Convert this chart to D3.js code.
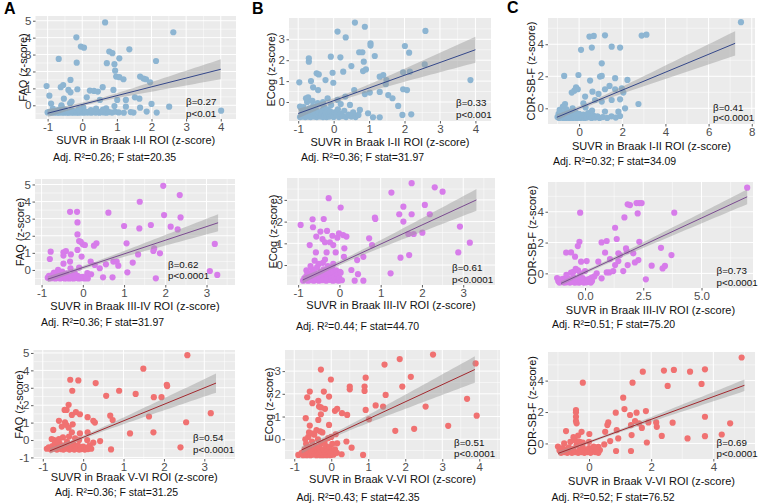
<!DOCTYPE html>
<html><head><meta charset="utf-8">
<script src="https://cdn.jsdelivr.net/npm/d3@7"></script>
<style>body{margin:0;background:#fff;} svg{display:block;font-family:"Liberation Sans",Arial,sans-serif;}</style>
</head><body><svg id="c" width="760" height="504"></svg>
<script>
// ---------------- DATA ----------------
const columnLetters = ["A", "B", "C"];
const outcomeTitles = ["FAQ (z-score)", "ECog (z-score)", "CDR-SB-F (z-score)"];
const regionTitles = ["SUVR in Braak I-II ROI (z-score)", "SUVR in Braak III-IV ROI (z-score)", "SUVR in Braak V-VI ROI (z-score)"];
// row-major: [row][col]
const betaLabels = [["β=0.27", "β=0.33", "β=0.41"], ["β=0.62", "β=0.61", "β=0.73"], ["β=0.54", "β=0.51", "β=0.69"]];
const pLabels = [["p<0.01", "p<0.001", "p<0.0001"], ["p<0.0001", "p<0.0001", "p<0.0001"], ["p<0.0001", "p<0.0001", "p<0.0001"]];
const adjR2 = [["0.26", "0.36", "0.32"], ["0.36", "0.44", "0.51"], ["0.36", "0.43", "0.52"]];
const fStat = [["20.35", "31.97", "34.09"], ["31.97", "44.70", "75.20"], ["31.25", "42.35", "76.52"]];

const xTicks = [[-1, 0, 1, 2, 3, 4], [-1, 0, 1, 2, 3, 4], [0, 2, 4, 6, 8],
                [-1, 0, 1, 2, 3], [-1, 0, 1, 2, 3], [0, 2.5, 5],
                [-1, 0, 1, 2, 3], [-1, 0, 1, 2, 3, 4], [0, 2, 4]];
const yTicks = [[0, 1, 2, 3, 4, 5], [0, 1, 2, 3], [0, 2, 4],
                [0, 1, 2, 3, 4, 5], [0, 1, 2, 3], [0, 2, 4],
                [-1, 0, 1, 2, 3, 4, 5], [0, 1, 2, 3], [0, 2, 4]];

// fitted line ends [x0, y0, x1, y1]
const fitLines = [[-1, -0.47, 4, 2.13], [-1, -0.55, 4, 2.5], [-1.03, -0.56, 7.23, 4.06],
                  [-0.85, -0.54, 3.28, 2.76], [-0.89, -0.69, 3.32, 3.0], [-1.03, -0.65, 6.96, 4.97],
                  [-0.82, -0.62, 3.29, 3.27], [-0.8, -0.47, 3.88, 3.07], [-0.99, -0.63, 5.0, 3.7]];
// confidence band: [x of narrowest, half-width there, half-width at right end]
const bands = [[0.3, 0.1, 0.59], [0.2, 0.12, 0.62], [0.3, 0.12, 0.76],
               [0.1, 0.1, 0.5], [0.0, 0.1, 0.5], [0.3, 0.1, 0.48],
               [0.0, 0.1, 0.55], [0.0, 0.1, 0.58], [0.3, 0.08, 0.37]];

const ptsA1 = [[0.66,4.9],[2.63,4.32],[-0.17,4.02],[-0.04,3.47],[0.05,3.41],[-0.68,2.74],[0.78,3.18],[0.87,3.08],[1.36,3.31],[-0.16,2.52],[0.71,2.49],[0.93,2.43],[1.07,2.78],[2.13,2.62],[0.95,2.05],[0.98,1.70],[1.07,1.66],[1.19,1.54],[1.67,1.70],[1.77,1.58],[1.84,1.54],[1.96,1.36],[-0.34,1.50],[-0.55,1.20],[-0.62,1.07],[-1.03,1.14],[-0.14,0.95],[-0.40,0.91],[-0.34,0.77],[0.22,0.87],[0.34,0.85],[0.45,0.81],[-0.95,0.57],[-0.53,0.39],[0.59,1.07],[0.13,0.47],[0.90,0.91],[1.01,0.32],[1.26,0.32],[1.52,0.47],[1.65,0.39],[0.51,0.32],[-0.31,0.22],[2.0,0.08],[2.51,-0.08],[4.01,-0.32],[0.93,-0.04],[1.26,-0.08],[1.67,-0.14],[-0.6,-0.08],[-0.35,0.12],[0.03,-0.12],[0.69,-0.18],[1.86,-0.37],[2.15,-0.43],[1.48,-0.43],
[-1.0,-0.42],[-0.95,-0.38],[-0.9,-0.44],[-0.85,-0.40],[-0.8,-0.44],[-0.76,-0.36],[-0.72,-0.42],[-0.68,-0.44],[-0.64,-0.38],[-0.6,-0.43],[-0.56,-0.40],[-0.52,-0.44],[-0.48,-0.36],[-0.44,-0.42],[-0.4,-0.44],[-0.36,-0.39],[-0.32,-0.43],[-0.28,-0.40],[-0.24,-0.44],[-0.2,-0.36],[-0.16,-0.42],[-0.12,-0.44],[-0.08,-0.39],[-0.04,-0.43],[0.0,-0.40],[0.05,-0.44],[0.1,-0.37],[0.15,-0.43],[0.2,-0.40],[0.26,-0.44],[0.32,-0.38],[0.38,-0.43],[0.44,-0.41],[0.5,-0.44],[0.56,-0.36],[0.62,-0.42],[0.7,-0.44],[0.78,-0.40],[0.86,-0.43],[0.95,-0.38],[1.05,-0.42],[1.2,-0.44],[1.4,-0.40],[-0.85,-0.2],[-0.7,-0.28],[-0.5,-0.25],[-0.3,-0.3],[-0.1,-0.22],[0.25,-0.28],[0.4,-0.2],[0.6,-0.26],[-0.6,0.0],[-0.9,0.1]];

const ptsB1 = [[0.60,3.80],[2.59,3.40],[0.88,3.60],[0.11,3.37],[0.34,3.09],[1.04,2.81],[1.04,2.70],[2.01,2.68],[2.13,2.36],[0.72,2.38],[0.81,2.38],[1.16,2.20],[-0.08,2.17],[0.19,2.14],[-0.70,2.09],[-0.70,1.93],[0.85,1.93],[0.91,1.56],[0.83,1.48],[0.50,1.72],[2.57,1.80],[1.96,1.42],[2.15,1.45],[1.30,1.21],[1.40,1.29],[1.49,1.05],[1.47,0.85],[-0.03,1.40],[0.27,1.45],[-0.48,1.37],[-0.42,1.32],[-0.64,1.0],[-0.23,1.05],[3.86,1.05],[-0.01,0.92],[-0.97,0.94],[-0.58,0.70],[0.58,0.57],[-0.44,0.57],[1.02,0.45],[1.30,0.48],[1.96,0.61],[2.07,0.57],[1.54,0.33],[1.66,0.18],[0.88,0.38],[0.33,0.26],[0.11,0.10],[-0.17,0.18],[-0.78,0.18],[-0.72,0.22],[1.82,-0.19],[-0.95,-0.22],[0.46,-0.14],[0.74,-0.38],[0.97,-0.54],[1.11,-0.73],[1.30,-0.73],[1.94,-0.62],[2.19,-0.59],
[-0.95,-0.72],[-0.9,-0.6],[-0.88,-0.7],[-0.84,-0.5],[-0.8,-0.72],[-0.78,-0.62],[-0.75,-0.4],[-0.72,-0.7],[-0.7,-0.55],[-0.68,-0.3],[-0.65,-0.72],[-0.62,-0.62],[-0.6,-0.45],[-0.58,-0.2],[-0.55,-0.7],[-0.52,-0.55],[-0.5,-0.35],[-0.48,-0.72],[-0.45,-0.62],[-0.42,-0.48],[-0.4,-0.1],[-0.38,-0.7],[-0.35,-0.58],[-0.32,-0.4],[-0.3,-0.72],[-0.27,-0.25],[-0.25,-0.62],[-0.22,-0.5],[-0.2,-0.72],[-0.17,-0.35],[-0.15,-0.6],[-0.12,-0.7],[-0.1,-0.45],[-0.07,-0.15],[-0.05,-0.65],[0.0,-0.72],[0.03,-0.5],[0.08,-0.62],[0.12,-0.35],[0.15,-0.72],[0.2,-0.55],[0.25,-0.68],[0.3,-0.42],[0.35,-0.72],[0.42,-0.6],[0.5,-0.7],[0.55,-0.5],[0.62,-0.72],[0.7,-0.62],[-0.85,-0.25],[-0.75,0.0],[-0.6,0.05],[-0.45,-0.05],[-0.3,0.0],[0.2,-0.1],[-0.9,-0.35]];

const ptsC1 = [[7.5,5.38],[0.48,4.48],[0.68,4.52],[1.20,4.56],[2.90,4.54],[3.12,4.60],[0.09,3.65],[0.59,3.79],[1.51,3.85],[1.90,3.79],[1.05,2.81],[-0.69,2.02],[-0.03,2.08],[0.51,1.73],[0.97,1.98],[1.05,2.02],[1.67,1.88],[2.24,1.77],[-0.14,1.31],[-0.06,1.19],[-0.22,1.10],[-0.34,0.98],[0.28,0.73],[0.62,1.04],[0.90,0.90],[1.20,1.19],[1.41,1.40],[1.67,1.19],[1.98,1.25],[2.05,0.98],[1.90,0.56],[2.75,0.27],[1.51,0.52],[1.05,0.42],[0.74,0.52],[-0.65,0.27],[0.20,0.31],[2.13,0.0],[1.82,-0.21],[1.90,-0.48],
[-1.0,-0.55],[-0.95,-0.35],[-0.92,-0.6],[-0.88,-0.45],[-0.84,-0.25],[-0.8,-0.58],[-0.76,-0.4],[-0.72,-0.6],[-0.68,-0.3],[-0.64,-0.5],[-0.6,-0.6],[-0.56,-0.38],[-0.52,-0.55],[-0.48,-0.2],[-0.44,-0.6],[-0.4,-0.45],[-0.36,-0.58],[-0.32,-0.3],[-0.28,-0.6],[-0.24,-0.42],[-0.2,-0.55],[-0.16,-0.25],[-0.12,-0.6],[-0.08,-0.45],[-0.04,-0.58],[0.0,-0.35],[0.05,-0.6],[0.1,-0.5],[0.15,-0.58],[0.2,-0.4],[0.25,-0.6],[0.3,-0.5],[0.36,-0.58],[0.42,-0.3],[0.5,-0.55],[0.58,-0.6],[0.66,-0.45],[0.75,-0.58],[0.85,-0.5],[0.95,-0.6],[1.1,-0.55],[1.3,-0.6],[1.5,-0.5],[1.7,-0.58],[-0.9,-0.1],[-0.6,-0.05],[-0.3,0.0],[0.3,0.05],[0.6,-0.15],[1.2,-0.2],[-0.75,0.1]];

const ptsA2 = [[1.95,4.92],[1.38,3.99],[2.35,4.38],[-0.31,3.40],[-0.14,3.40],[0.62,3.35],[1.97,3.21],[2.37,3.07],[-0.13,2.78],[1.65,2.63],[1.0,2.57],[2.13,2.53],[1.37,2.43],[2.30,2.37],[-0.13,2.08],[0.33,1.56],[0.27,1.42],[-0.09,1.69],[-0.05,1.65],[0.0,1.5],[0.05,1.46],[3.20,1.52],[1.06,1.56],[1.73,1.26],[1.71,1.11],[1.87,0.97],[-0.78,1.07],[-0.13,1.17],[-0.47,1.03],[-0.41,1.11],[-0.47,0.84],[-0.80,0.64],[-0.29,0.91],[-0.03,0.78],[-0.47,0.37],[-0.31,0.49],[0.19,0.49],[0.56,0.33],[0.74,0.49],[0.82,0.49],[0.86,0.25],[1.34,0.91],[1.21,0.43],[0.29,0.29],[0.41,0.10],[1.08,-0.14],[-0.09,0.14],[3.08,-0.06],[3.26,-0.29],[1.77,-0.49],[0.72,-0.43],[0.49,-0.43],[0.11,-0.19],
[-0.85,-0.45],[-0.82,-0.35],[-0.8,-0.5],[-0.77,-0.42],[-0.74,-0.3],[-0.72,-0.48],[-0.69,-0.4],[-0.66,-0.5],[-0.63,-0.35],[-0.6,-0.45],[-0.58,-0.25],[-0.55,-0.5],[-0.52,-0.4],[-0.5,-0.47],[-0.47,-0.32],[-0.44,-0.5],[-0.42,-0.42],[-0.39,-0.48],[-0.36,-0.36],[-0.33,-0.5],[-0.3,-0.43],[-0.27,-0.48],[-0.25,-0.3],[-0.22,-0.5],[-0.19,-0.4],[-0.16,-0.47],[-0.13,-0.35],[-0.1,-0.5],[-0.07,-0.42],[-0.04,-0.48],[0.0,-0.4],[0.04,-0.5],[0.08,-0.45],[0.12,-0.5],[-0.7,-0.15],[-0.5,-0.1],[-0.4,-0.2],[-0.2,-0.15],[-0.6,0.0],[-0.3,0.1],[0.2,-0.25]];

const ptsB2 = [[1.75,3.77],[2.31,3.58],[2.50,3.38],[1.26,3.34],[-0.26,3.08],[0.03,2.65],[1.55,2.69],[2.07,2.77],[1.45,2.34],[1.75,2.34],[2.19,2.34],[0.86,2.18],[0.87,2.12],[-0.65,2.11],[-0.38,2.12],[-0.94,1.85],[-0.64,1.74],[1.55,2.0],[-0.46,1.54],[-0.30,1.57],[0.09,1.38],[-0.01,1.46],[0.17,1.31],[-0.17,1.35],[-0.05,1.26],[-0.56,1.31],[-0.72,0.92],[-0.41,1.2],[-0.35,1.05],[-0.23,1.05],[-0.15,0.92],[0.12,0.77],[0.72,1.23],[1.67,1.43],[1.80,1.43],[2.01,1.49],[0.79,0.92],[-0.57,0.58],[-0.31,0.58],[0.58,0.38],[-0.09,0.58],[0.11,0.38],[0.43,0.23],[1.69,0.46],[1.48,0.34],[2.88,0.58],[3.16,1.03],[2.92,1.77],[0.29,-0.23],[0.45,-0.42],[0.58,-0.72],[0.37,-0.72],[1.24,-0.38],[0.01,-0.31],
[-0.88,-0.72],[-0.85,-0.6],[-0.82,-0.7],[-0.8,-0.5],[-0.78,-0.65],[-0.76,-0.72],[-0.74,-0.4],[-0.72,-0.58],[-0.7,-0.7],[-0.68,-0.48],[-0.66,-0.2],[-0.64,-0.62],[-0.62,-0.72],[-0.6,-0.35],[-0.58,-0.55],[-0.56,-0.68],[-0.54,-0.1],[-0.52,-0.45],[-0.5,-0.72],[-0.48,-0.6],[-0.46,-0.3],[-0.44,-0.5],[-0.42,-0.7],[-0.4,0.1],[-0.38,-0.2],[-0.36,-0.62],[-0.34,-0.4],[-0.32,-0.72],[-0.3,-0.55],[-0.28,-0.05],[-0.26,-0.3],[-0.24,-0.68],[-0.22,-0.48],[-0.2,-0.6],[-0.18,-0.15],[-0.16,-0.72],[-0.14,-0.38],[-0.12,-0.55],[-0.1,-0.7],[-0.08,-0.25],[-0.06,-0.6],[-0.04,-0.45],[-0.02,-0.72],[0.0,-0.6],[0.03,-0.35],[0.06,-0.7],[-0.6,0.2],[-0.5,0.05],[-0.7,-0.05],[-0.8,-0.25],[-0.35,0.25],[-0.15,0.05]];

const ptsC2 = [[6.96,5.56],[-0.21,3.94],[1.69,3.63],[1.83,4.48],[1.93,4.43],[2.21,4.56],[2.33,4.56],[2.43,4.56],[2.26,3.89],[3.83,3.94],[1.29,2.96],[1.36,2.23],[0.71,2.01],[0.93,2.10],[2.33,2.05],[-0.24,2.05],[-0.31,1.77],[-0.81,1.34],[-0.60,1.36],[0.86,1.34],[3.26,1.66],[3.71,1.19],[1.43,1.30],[1.50,1.19],[1.76,1.62],[1.79,1.45],[2.07,1.30],[-0.43,1.08],[-0.17,0.76],[0.07,0.80],[0.57,0.76],[1.07,0.93],[1.29,0.54],[1.43,0.80],[1.83,0.54],[2.14,0.71],[2.29,0.86],[2.86,0.50],[3.33,0.32],[3.43,0.48],[1.64,0.15],[1.04,0.06],[1.21,0.15],[0.50,0.0],[0.29,-0.28],[0.71,-0.32],[2.61,-0.39],[0.93,0.06],
[-1.2,-0.3],[-1.15,-0.5],[-1.1,-0.6],[-1.05,-0.4],[-1.0,-0.55],[-0.95,-0.35],[-0.9,-0.6],[-0.85,-0.45],[-0.8,-0.58],[-0.75,-0.3],[-0.7,-0.5],[-0.65,-0.6],[-0.6,-0.4],[-0.55,-0.55],[-0.5,-0.25],[-0.45,-0.6],[-0.4,-0.45],[-0.35,-0.58],[-0.3,-0.35],[-0.25,-0.6],[-0.2,-0.48],[-0.15,-0.55],[-0.1,-0.3],[-0.05,-0.6],[0.0,-0.45],[0.05,-0.58],[0.1,-0.4],[0.15,-0.55],[0.2,-0.35],[0.25,-0.6],[0.3,-0.5],[-0.5,0.1],[-0.4,0.3],[-0.3,0.2],[-0.6,0.05],[-0.2,0.0],[0.0,0.15],[-0.8,-0.1],[0.4,-0.2]];

const ptsA3 = [[2.58,4.87],[1.49,4.10],[-0.32,3.46],[-0.12,3.42],[0.31,3.27],[2.07,3.17],[2.08,3.10],[-0.27,2.83],[0.89,2.83],[1.30,2.65],[0.57,2.54],[1.75,2.46],[1.94,2.46],[-0.36,2.02],[-0.46,1.73],[-0.41,1.73],[-0.18,1.60],[-0.08,1.48],[-0.28,1.44],[3.16,1.54],[1.63,1.35],[0.67,1.40],[0.11,1.31],[0.73,1.15],[0.25,1.10],[0.29,1.0],[-0.60,1.10],[-0.45,1.02],[-0.42,0.87],[2.55,1.02],[-0.53,0.77],[-0.74,0.58],[-0.26,0.90],[-0.36,0.71],[-0.28,0.44],[-0.08,0.38],[0.11,0.44],[1.16,0.38],[1.74,0.44],[0.42,-0.06],[0.69,-0.54],[2.41,-0.42],[-0.72,0.0],[-0.78,0.06],
[-0.9,-0.5],[-0.85,-0.42],[-0.8,-0.55],[-0.76,-0.35],[-0.72,-0.5],[-0.68,-0.3],[-0.65,-0.55],[-0.62,-0.45],[-0.58,-0.2],[-0.55,-0.52],[-0.52,-0.4],[-0.49,-0.55],[-0.46,-0.3],[-0.43,-0.5],[-0.4,-0.1],[-0.37,-0.45],[-0.34,-0.55],[-0.31,-0.35],[-0.28,-0.5],[-0.25,-0.2],[-0.22,-0.55],[-0.19,-0.4],[-0.16,-0.5],[-0.13,-0.3],[-0.1,-0.55],[-0.07,-0.45],[-0.04,-0.52],[0.0,-0.38],[0.04,-0.55],[0.08,-0.45],[0.12,-0.52],[0.16,-0.3],[0.2,-0.5],[-0.6,0.05],[-0.5,0.15],[-0.35,0.2],[-0.2,0.1],[-0.1,0.0],[0.1,0.0],[-0.7,-0.1],[0.25,-0.15]];

const ptsB3 = [[2.75,3.73],[1.85,3.53],[1.44,3.29],[3.90,3.34],[-0.28,3.07],[-0.01,2.63],[0.93,2.71],[2.15,2.75],[0.50,2.32],[0.50,2.2],[0.90,2.32],[0.90,2.13],[1.92,2.32],[-0.58,2.10],[-0.20,2.10],[1.47,1.95],[-0.65,1.85],[-0.06,1.88],[3.67,1.78],[-0.51,1.59],[-0.35,1.69],[-0.33,1.44],[-0.28,1.4],[1.20,1.49],[1.40,1.44],[2.55,1.44],[0.10,1.25],[0.16,1.34],[-0.17,1.34],[0.93,1.29],[0.43,1.07],[0.29,1.15],[3.93,1.04],[-0.69,0.93],[-0.28,1.10],[-0.35,0.85],[1.02,0.88],[-0.06,0.63],[-0.58,0.60],[3.16,0.59],[2.24,0.46],[1.73,0.37],[0.12,0.22],[0.41,-0.10],[0.16,-0.18],[0.55,-0.37],[0.86,-0.69],[0.28,-0.66],[-0.89,-0.69],
[-0.8,-0.6],[-0.76,-0.7],[-0.72,-0.45],[-0.7,-0.62],[-0.68,-0.2],[-0.66,-0.7],[-0.64,-0.5],[-0.62,0.1],[-0.6,-0.65],[-0.58,-0.35],[-0.56,-0.7],[-0.54,-0.55],[-0.52,-0.1],[-0.5,-0.68],[-0.48,-0.45],[-0.46,0.2],[-0.44,-0.62],[-0.42,-0.3],[-0.4,-0.7],[-0.38,-0.5],[-0.36,0.0],[-0.34,-0.65],[-0.32,-0.4],[-0.3,-0.7],[-0.28,-0.2],[-0.26,-0.58],[-0.24,0.3],[-0.22,-0.7],[-0.2,-0.45],[-0.18,-0.1],[-0.16,-0.62],[-0.14,-0.3],[-0.12,-0.7],[-0.1,-0.5],[-0.08,0.05],[-0.06,-0.65],[-0.04,-0.35],[-0.02,-0.7],[0.0,-0.55],[0.03,-0.2],[0.06,-0.68],[0.1,-0.45],[-0.6,0.3],[-0.5,0.25],[-0.4,0.4],[-0.3,0.35],[-0.7,0.0],[0.0,0.1],[0.15,-0.6]];

const ptsC3 = [[4.91,5.47],[1.73,4.57],[2.41,4.64],[2.73,4.68],[3.25,4.57],[3.73,4.72],[3.62,3.79],[1.40,3.87],[-0.20,3.87],[2.53,3.66],[1.10,2.91],[1.14,2.19],[-0.42,2.13],[-0.42,1.98],[0.86,1.96],[1.53,1.96],[1.32,1.81],[1.83,2.06],[-0.42,1.70],[-0.42,1.43],[-0.40,1.28],[0.62,1.34],[0.59,1.17],[1.48,1.43],[1.35,1.17],[1.61,1.28],[1.91,1.34],[2.16,1.34],[2.69,1.32],[3.73,1.70],[4.54,1.28],[-0.74,0.79],[-0.24,0.74],[0.01,0.60],[0.52,0.74],[0.89,0.85],[1.70,0.99],[2.18,1.06],[1.37,0.53],[2.34,0.48],[3.73,0.46],[4.27,0.57],[3.17,0.32],[1.86,0.06],[0.94,0.32],[0.68,0.15],[1.35,-0.48],[0.87,-0.48],[0.30,-0.21],[0.49,-0.06],[0.35,-0.42],
[-1.0,-0.2],[-0.95,-0.45],[-0.9,-0.6],[-0.85,-0.3],[-0.8,-0.55],[-0.75,-0.4],[-0.7,-0.6],[-0.65,-0.25],[-0.6,-0.5],[-0.55,-0.6],[-0.5,-0.35],[-0.45,-0.55],[-0.4,-0.1],[-0.35,-0.6],[-0.3,-0.4],[-0.25,-0.55],[-0.2,-0.25],[-0.15,-0.6],[-0.1,-0.45],[-0.05,-0.55],[0.0,-0.3],[0.05,-0.6],[0.1,-0.5],[0.15,-0.2],[0.2,-0.55],[0.25,-0.4],[0.3,-0.6],[-0.6,0.1],[-0.45,0.2],[-0.3,0.1],[-0.5,0.4],[-0.35,0.5],[-0.2,0.05],[0.0,0.1],[-0.8,0.0]];

const panelPoints = [ptsA1, ptsB1, ptsC1, ptsA2, ptsB2, ptsC2, ptsA3, ptsB3, ptsC3];

// ---------------- LAYOUT / STYLE ----------------
const layout = [
  {l:35.5,t:16,r:236,b:119, xd:[-1.35,4.44], yd:[-0.81,5.28], ytx:23,  xty:140,   adjX:53,  adjY:157, bX:186, bY:102, pY:113.5},
  {l:289,t:18,r:491,b:121, xd:[-1.26,4.44], yd:[-0.91,4.02], ytx:271, xty:142.5, adjX:301, adjY:157, bX:456, bY:103, pY:114.5},
  {l:548,t:18,r:755,b:124, xd:[-1.44,8.15], yd:[-0.98,5.64], ytx:531, xty:146,   adjX:553, adjY:161, bX:713, bY:107.5, pY:118},
  {l:35,t:179,r:235,b:285, xd:[-1.16,3.69], yd:[-0.88,5.32], ytx:20,  xty:306,   adjX:41,  adjY:322, bX:168, bY:264.5, pY:275.5},
  {l:287,t:178,r:495,b:285, xd:[-1.27,3.77], yd:[-0.92,4.01], ytx:273, xty:305,  adjX:296, adjY:326.5, bX:452, bY:268, pY:279.5},
  {l:548,t:182,r:753,b:288, xd:[-1.59,7.21], yd:[-0.95,5.93], ytx:532, xty:310,   adjX:552, adjY:324.5, bX:716.5, bY:271, pY:282.5},
  {l:33.5,t:350,r:235,b:459, xd:[-1.23,3.76], yd:[-1.09,5.17], ytx:19, xty:477.5, adjX:55,  adjY:492.5, bX:193, bY:438, pY:450},
  {l:285,t:350,r:500,b:459, xd:[-1.25,4.56], yd:[-0.87,3.93], ytx:269, xty:479.5, adjX:296.5, adjY:497, bX:454, bY:442.5, pY:454},
  {l:548,t:352,r:755,b:459, xd:[-1.32,5.34], yd:[-0.99,5.82], ytx:532, xty:481.5, adjX:551.5, adjY:497, bX:716.5, bY:442.5, pY:454}
];
const letterPos = [[4, 14], [252, 14], [507, 13]];
const pointColors = ["#8DB5D2", "#D77CEA", "#F07171"];
const lineColors = ["#34478A", "#7A4A90", "#A3282E"];
const FONT = '"Liberation Sans",Arial,sans-serif';

const svg = d3.select("#c");
svg.append("rect").attr("width", 760).attr("height", 504).attr("fill", "#fff");

function minorTicks(ticks, dom) {
  const step = ticks[1] - ticks[0];
  const out = [];
  for (let i = 0; i < ticks.length - 1; i++) out.push((ticks[i] + ticks[i + 1]) / 2);
  const lo = ticks[0] - step / 2, hi = ticks[ticks.length - 1] + step / 2;
  if (lo >= dom[0]) out.push(lo);
  if (hi <= dom[1]) out.push(hi);
  return out;
}

layout.forEach((L, i) => {
  const row = Math.floor(i / 3), col = i % 3;
  const x = d3.scaleLinear().domain(L.xd).range([L.l, L.r]);
  const y = d3.scaleLinear().domain(L.yd).range([L.b, L.t]);
  const g = svg.append("g");
  const clipId = "clip" + i;
  g.append("clipPath").attr("id", clipId).append("rect")
    .attr("x", L.l).attr("y", L.t).attr("width", L.r - L.l).attr("height", L.b - L.t);
  g.append("rect").attr("x", L.l).attr("y", L.t).attr("width", L.r - L.l).attr("height", L.b - L.t).attr("fill", "#EBEBEB");

  const xt = xTicks[i], yt = yTicks[i];
  const gridG = g.append("g").attr("clip-path", `url(#${clipId})`);
  gridG.selectAll(".mx").data(minorTicks(xt, L.xd)).join("line")
    .attr("x1", d => x(d)).attr("x2", d => x(d)).attr("y1", L.t).attr("y2", L.b)
    .attr("stroke", "#fff").attr("stroke-width", 0.5);
  gridG.selectAll(".my").data(minorTicks(yt, L.yd)).join("line")
    .attr("y1", d => y(d)).attr("y2", d => y(d)).attr("x1", L.l).attr("x2", L.r)
    .attr("stroke", "#fff").attr("stroke-width", 0.5);
  gridG.selectAll(".Mx").data(xt).join("line")
    .attr("x1", d => x(d)).attr("x2", d => x(d)).attr("y1", L.t).attr("y2", L.b)
    .attr("stroke", "#fff").attr("stroke-width", 1);
  gridG.selectAll(".My").data(yt).join("line")
    .attr("y1", d => y(d)).attr("y2", d => y(d)).attr("x1", L.l).attr("x2", L.r)
    .attr("stroke", "#fff").attr("stroke-width", 1);

  const plotG = g.append("g").attr("clip-path", `url(#${clipId})`);
  plotG.selectAll("circle").data(panelPoints[i]).join("circle")
    .attr("cx", d => x(d[0])).attr("cy", d => y(d[1])).attr("r", 3.1)
    .attr("fill", pointColors[row]);

  const [x0, y0, x1, y1] = fitLines[i];
  const [xm, h0, h1] = bands[i];
  const slope = (y1 - y0) / (x1 - x0);
  const hw = xv => Math.sqrt(h0 * h0 + (h1 * h1 - h0 * h0) * Math.pow((xv - xm) / (x1 - xm), 2));
  const xs = d3.range(0, 41).map(k => x0 + (x1 - x0) * k / 40);
  const area = d3.area().x(d => x(d)).y0(d => y(y0 + slope * (d - x0) - hw(d))).y1(d => y(y0 + slope * (d - x0) + hw(d)));
  plotG.append("path").datum(xs).attr("d", area).attr("fill", "#999999").attr("fill-opacity", 0.45);
  plotG.append("line").attr("x1", x(x0)).attr("y1", y(y0)).attr("x2", x(x1)).attr("y2", y(y1))
    .attr("stroke", lineColors[row]).attr("stroke-width", 1);

  const fmt = col === 2 && row === 1 ? (d => d.toFixed(1)) : (d => String(d));
  const xa = g.append("g").attr("transform", `translate(0,${L.b})`)
    .call(d3.axisBottom(x).tickValues(xt).tickSize(2.5).tickPadding(1).tickFormat(fmt));
  const ya = g.append("g").attr("transform", `translate(${L.l},0)`)
    .call(d3.axisLeft(y).tickValues(yt).tickSize(2.5).tickPadding(1.5).tickFormat(d => String(d)));
  [xa, ya].forEach(a => {
    a.attr("font-size", null).attr("font-family", null);
    a.select(".domain").remove();
    a.selectAll(".tick line").attr("stroke", "#333").attr("stroke-width", 0.8);
    a.selectAll(".tick text").attr("fill", "#4D4D4D").attr("font-size", 11.5).attr("font-family", FONT);
  });

  // axis titles
  g.append("text").attr("x", (L.l + L.r) / 2).attr("y", L.xty).attr("dy", "0.35em")
    .attr("text-anchor", "middle").attr("font-size", 11).attr("fill", "#111").text(regionTitles[row]);
  g.append("text").attr("transform", `translate(${L.ytx},${(L.t + L.b) / 2}) rotate(-90)`).attr("dy", "0.35em")
    .attr("text-anchor", "middle").attr("font-size", 11).attr("fill", "#111").text(outcomeTitles[col]);

  // stats
  g.append("text").attr("x", L.bX).attr("y", L.bY).attr("dy", "0.35em").attr("font-size", 9.8).attr("fill", "#111").text(betaLabels[row][col]);
  g.append("text").attr("x", L.bX).attr("y", L.pY).attr("dy", "0.35em").attr("font-size", 9.8).attr("fill", "#111").text(pLabels[row][col]);
  g.append("text").attr("x", L.adjX).attr("y", L.adjY).attr("dy", "0.35em").attr("font-size", 10.5).attr("fill", "#111")
    .text(`Adj. R²=${adjR2[row][col]}; F stat=${fStat[row][col]}`);
});

columnLetters.forEach((s, c) => {
  svg.append("text").attr("x", letterPos[c][0]).attr("y", letterPos[c][1])
    .attr("font-size", 16).attr("font-weight", "bold").attr("fill", "#000").text(s);
});
</script>
</body></html>
